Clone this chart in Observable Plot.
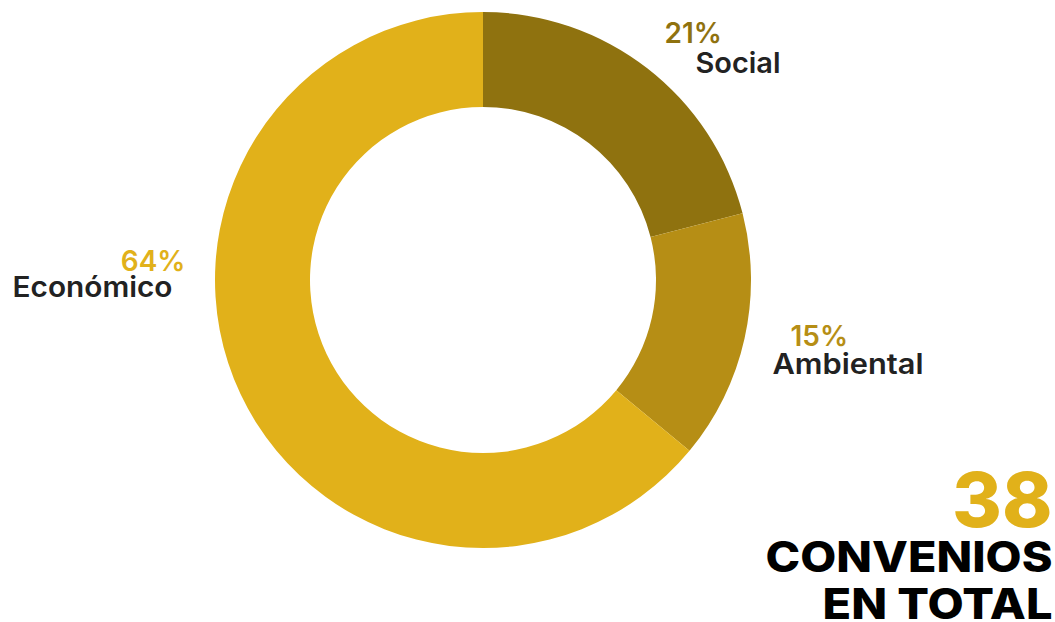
<!DOCTYPE html>
<html><head><meta charset="utf-8">
<script src="https://cdn.jsdelivr.net/npm/d3@7"></script>
<script src="https://cdn.jsdelivr.net/npm/@observablehq/plot@0.6"></script>
<style>html,body{margin:0;padding:0;background:#fff}</style>
</head><body><div id="chart"></div>
<script>
// ---- data ----
const categories = ["Social", "Ambiental", "Económico"];
const percents = [21, 15, 64];
const colors = ["#8f720f", "#b68e15", "#e1b11a"];
const totalValue = ["38"];
const totalLines = ["CONVENIOS", "EN TOTAL"];

// ---- layout (pixels) ----
const W = 1055, H = 622, CX = 483, CY = 280, R = 268, R0 = 173;
const X = px => (px - CX) / R, Y = py => (CY - py) / R;
const labelLayout = [
  {pct: [664, 42, "start"], name: [695, 72, "start"]},
  {pct: [790, 345, "start"], name: [772, 373, "start"]},
  {pct: [185, 270, "end"], name: [12, 296, "start"]}
];
// rendered widths of texts (fit to the reference's wide geometric font)
const fitWidths = {"Social": 85, "Ambiental": 151, "Económico": 160, "CONVENIOS": 287, "EN TOTAL": 230};
const FONT = "Inter, 'Open Sans', sans-serif";

const rows = categories.map((c, i) => ({category: c, pct: percents[i]}));
const arcs = d3.pie().sort(null).value(d => d.pct)(rows);

const pctRows = rows.map((d, i) => ({...d, label: d.pct + "%", x: X(labelLayout[i].pct[0]), y: Y(labelLayout[i].pct[1]), anchor: labelLayout[i].pct[2]}));
const nameRows = rows.map((d, i) => ({...d, x: X(labelLayout[i].name[0]), y: Y(labelLayout[i].name[1]), anchor: labelLayout[i].name[2]}));

function donut(index, scales) {
  const cx = scales.x(0), cy = scales.y(0);
  const rOuter = scales.x(1) - cx, rInner = scales.x(R0 / R) - cx;
  const arc = d3.arc().innerRadius(rInner).outerRadius(rOuter);
  const g = d3.create("svg:g").attr("transform", `translate(${cx},${cy})`);
  g.selectAll("path").data(arcs).join("path")
    .attr("d", arc)
    .attr("fill", d => scales.color(d.data.category));
  return g.node();
}

const textBase = {lineAnchor: "bottom", fontFamily: FONT};
const plot = Plot.plot({
  width: W, height: H,
  margin: 0,
  x: {domain: [X(0), X(W)], range: [0, W], axis: null},
  y: {domain: [Y(H), Y(0)], range: [H, 0], axis: null},
  color: {domain: categories, range: colors},
  marks: [
    donut,
    Plot.text(pctRows.filter(d => d.anchor === "start"), {...textBase, x: "x", y: "y", text: "label", fill: "category", textAnchor: "start", fontSize: 28, fontWeight: 600}),
    Plot.text(pctRows.filter(d => d.anchor === "end"), {...textBase, x: "x", y: "y", text: "label", fill: "category", textAnchor: "end", fontSize: 28, fontWeight: 600}),
    Plot.text(nameRows, {...textBase, x: "x", y: "y", text: "category", fill: "#222", textAnchor: "start", fontSize: 28, fontWeight: 600}),
    Plot.text(totalValue, {...textBase, x: () => X(1052), y: () => Y(526), text: d => d, fill: colors[2], textAnchor: "end", fontSize: 76, fontWeight: 800}),
    Plot.text(totalLines, {...textBase, x: () => X(1052), y: (d, i) => Y([571, 618][i]), text: d => d, fill: "#000", textAnchor: "end", fontSize: 42, fontWeight: 800})
  ]
});
d3.select(plot).selectAll("text").each(function () {
  const w = fitWidths[this.textContent];
  if (w) { this.setAttribute("textLength", w); this.setAttribute("lengthAdjust", "spacingAndGlyphs"); }
});
document.getElementById("chart").append(plot);
</script>
</body></html>
